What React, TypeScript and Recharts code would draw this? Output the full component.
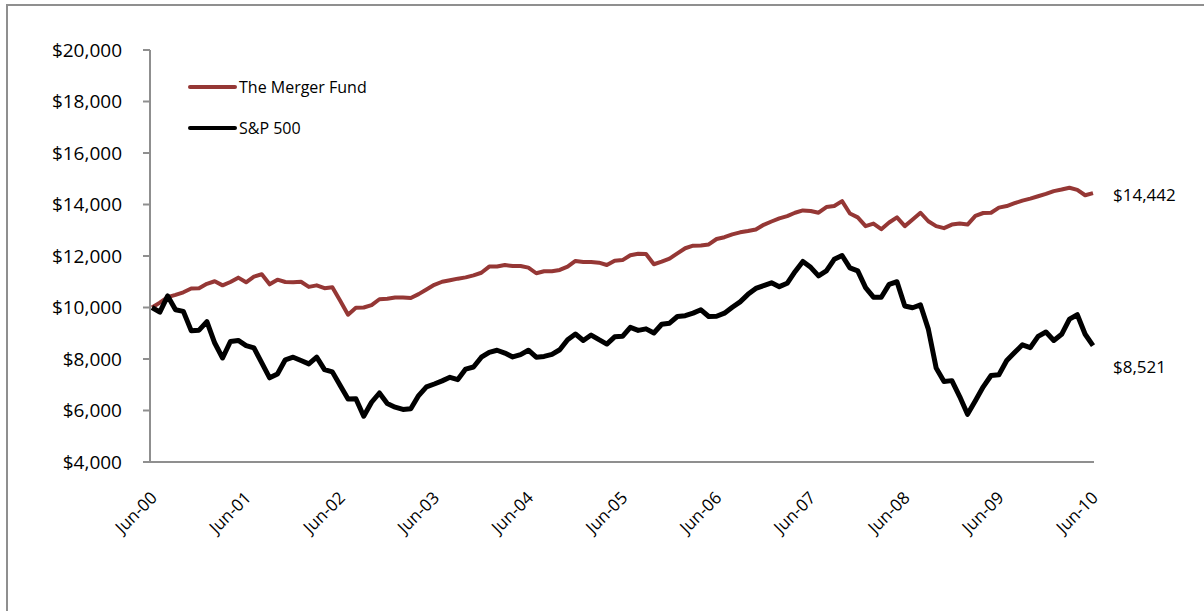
import React from 'react';
import { LineChart, Line, XAxis, YAxis, Legend, LabelList } from 'recharts';

// Monthly points, Jun-00 .. Jun-10 (121 months)
const MONTHS = ['Jan', 'Feb', 'Mar', 'Apr', 'May', 'Jun', 'Jul', 'Aug', 'Sep', 'Oct', 'Nov', 'Dec'];
const YEARS = ['00', '01', '02', '03', '04', '05', '06', '07', '08', '09', '10'];
const CATEGORIES: string[] = [];
for (let k = 0; k < 121; k++) {
  const mi = (5 + k) % 12;
  const yi = Math.floor((5 + k) / 12);
  CATEGORIES.push(`${MONTHS[mi]}-${YEARS[yi]}`);
}

const X_TICKS = ['Jun-00', 'Jun-01', 'Jun-02', 'Jun-03', 'Jun-04', 'Jun-05', 'Jun-06', 'Jun-07', 'Jun-08', 'Jun-09', 'Jun-10'];
const Y_TICKS = [4000, 6000, 8000, 10000, 12000, 14000, 16000, 18000, 20000];

const MERGER_FUND = [
  10000, 10190, 10400, 10490, 10590, 10740, 10750, 10920, 11020, 10860,
  10990, 11160, 10980, 11200, 11290, 10900, 11080, 10990, 10980, 11000,
  10800, 10860, 10750, 10790, 10260, 9720, 9990, 10000, 10090, 10320,
  10340, 10390, 10390, 10370, 10520, 10700, 10880, 11000, 11060, 11120,
  11170, 11250, 11350, 11590, 11590, 11650, 11610, 11610, 11550, 11330,
  11410, 11410, 11460, 11590, 11810, 11770, 11770, 11740, 11650, 11820,
  11840, 12030, 12090, 12080, 11680, 11780, 11900, 12100, 12300, 12400,
  12410, 12450, 12660, 12730, 12840, 12920, 12970, 13030, 13210, 13340,
  13460, 13550, 13680, 13770, 13750, 13680, 13900, 13940, 14130, 13650,
  13500, 13160, 13260, 13040, 13300, 13500, 13160, 13420, 13680, 13350,
  13160, 13080, 13220, 13260, 13220, 13560, 13670, 13680, 13880, 13940,
  14050, 14150, 14230, 14320, 14410, 14520, 14580, 14650, 14570, 14360,
  14442,
];

const SP500 = [
  10000, 9820, 10450, 9910, 9850, 9100, 9120, 9450, 8620, 8040,
  8680, 8720, 8520, 8430, 7850, 7270, 7420, 7970, 8070, 7940,
  7810, 8070, 7590, 7500, 6970, 6450, 6460, 5780, 6320, 6680,
  6270, 6130, 6040, 6070, 6580, 6920, 7030, 7150, 7290, 7200,
  7610, 7690, 8070, 8260, 8340, 8230, 8080, 8170, 8340, 8070,
  8100, 8180, 8360, 8750, 8970, 8720, 8930, 8750, 8580, 8860,
  8880, 9230, 9110, 9170, 9010, 9350, 9390, 9650, 9680, 9780,
  9910, 9650, 9660, 9780, 10010, 10220, 10510, 10740, 10850, 10960,
  10810, 10940, 11390, 11790, 11560, 11230, 11420, 11870, 12020, 11540,
  11420, 10770, 10400, 10400, 10900, 11000, 10060, 9990, 10100, 9160,
  7650, 7130, 7160, 6540, 5850, 6380, 6920, 7360, 7390, 7940,
  8250, 8550, 8440, 8880, 9050, 8720, 8960, 9550, 9720, 8960,
  8521,
];

const SERIES_NAMES = ['The Merger Fund', 'S&P 500'];
const COLORS = ['#953735', '#000000'];

const data = CATEGORIES.map((m, i) => ({ m, merger: MERGER_FUND[i], sp: SP500[i] }));

const FONT = '"Open Sans", "Noto Sans", sans-serif';
const AXIS = '#8f8f8f';

const money = (v: number) => '$' + v.toLocaleString('en-US');

const XTick = (props: any) => {
  const { x, y, payload } = props;
  return (
    <text
      x={0}
      y={0}
      transform={`translate(${x + 6},${y + 37}) rotate(-45)`}
      textAnchor="end"
      fontFamily={FONT}
      fontSize={17}
      fill="#000"
    >
      {payload.value}
    </text>
  );
};

const endLabel = (dy: number, last: number) => (props: any) => {
  const { x, y, value, index } = props;
  if (index !== last) return null;
  return (
    <text x={x + 20} y={y + dy} dominantBaseline="central" fontFamily={FONT} fontSize={17} fill="#000">
      {money(value)}
    </text>
  );
};

const LegendContent = (props: any) => {
  const payload = [...(props.payload || [])].sort(
    (a: any, b: any) => SERIES_NAMES.indexOf(a.value) - SERIES_NAMES.indexOf(b.value)
  );
  return (
    <svg width={220} height={90} style={{ display: 'block', overflow: 'visible' }}>
      {payload.map((p: any, i: number) => (
        <g key={i}>
          <line x1={0} x2={45} y1={20 + i * 41} y2={20 + i * 41} stroke={p.color} strokeWidth={4} strokeLinecap="round" />
          <text x={49} y={20 + i * 41} dominantBaseline="central" fontFamily={FONT} fontSize={16} fill="#000">
            {p.value}
          </text>
        </g>
      ))}
    </svg>
  );
};

export default function App() {
  const last = data.length - 1;
  return (
    <div style={{ position: 'fixed', left: 0, top: 0, width: 1204, height: 611, background: '#fff', overflow: 'hidden' }}>
      <div
        style={{
          position: 'absolute',
          left: 6,
          top: 4,
          width: 1220,
          height: 640,
          border: `2px solid ${AXIS}`,
          boxSizing: 'border-box',
        }}
      />
      <div style={{ position: 'absolute', left: 0, top: 0 }}>
        <LineChart width={1204} height={611} data={data} margin={{ top: 50, right: 110, bottom: 89, left: 0 }}>
          <XAxis
            dataKey="m"
            type="category"
            ticks={X_TICKS}
            interval={0}
            tick={<XTick />}
            tickLine={false}
            tickSize={0}
            tickMargin={0}
            height={60}
            padding={{ left: 2, right: 1 }}
            axisLine={{ stroke: AXIS, strokeWidth: 2 }}
          />
          <XAxis
            xAxisId="top"
            dataKey="m"
            orientation="top"
            height={0}
            tick={false}
            tickLine={false}
            axisLine={{ stroke: AXIS, strokeWidth: 2 }}
          />
          <YAxis
            type="number"
            domain={[4000, 20000]}
            ticks={Y_TICKS}
            interval={0}
            width={150}
            tickFormatter={money}
            tickSize={7}
            tickMargin={21}
            tick={{ fontFamily: FONT, fontSize: 19, fill: '#000' }}
            tickLine={{ stroke: AXIS, strokeWidth: 2 }}
            axisLine={{ stroke: AXIS, strokeWidth: 2 }}
          />
          <YAxis
            yAxisId="right"
            orientation="right"
            width={0}
            domain={[4000, 20000]}
            tick={false}
            tickLine={false}
            axisLine={{ stroke: AXIS, strokeWidth: 2 }}
          />
          <Legend
            layout="vertical"
            align="center"
            verticalAlign="middle"
            content={<LegendContent />}
            wrapperStyle={{ left: 190, top: 67, width: 220, height: 90 }}
          />
          <Line
            name={SERIES_NAMES[0]}
            dataKey="merger"
            type="linear"
            stroke={COLORS[0]}
            strokeWidth={4}
            dot={false}
            strokeLinejoin="round"
            isAnimationActive={false}
          >
            <LabelList dataKey="merger" content={endLabel(1, last)} />
          </Line>
          <Line
            name={SERIES_NAMES[1]}
            dataKey="sp"
            type="linear"
            stroke={COLORS[1]}
            strokeWidth={5}
            dot={false}
            strokeLinejoin="round"
            isAnimationActive={false}
          >
            <LabelList dataKey="sp" content={endLabel(21, last)} />
          </Line>
        </LineChart>
      </div>
    </div>
  );
}
